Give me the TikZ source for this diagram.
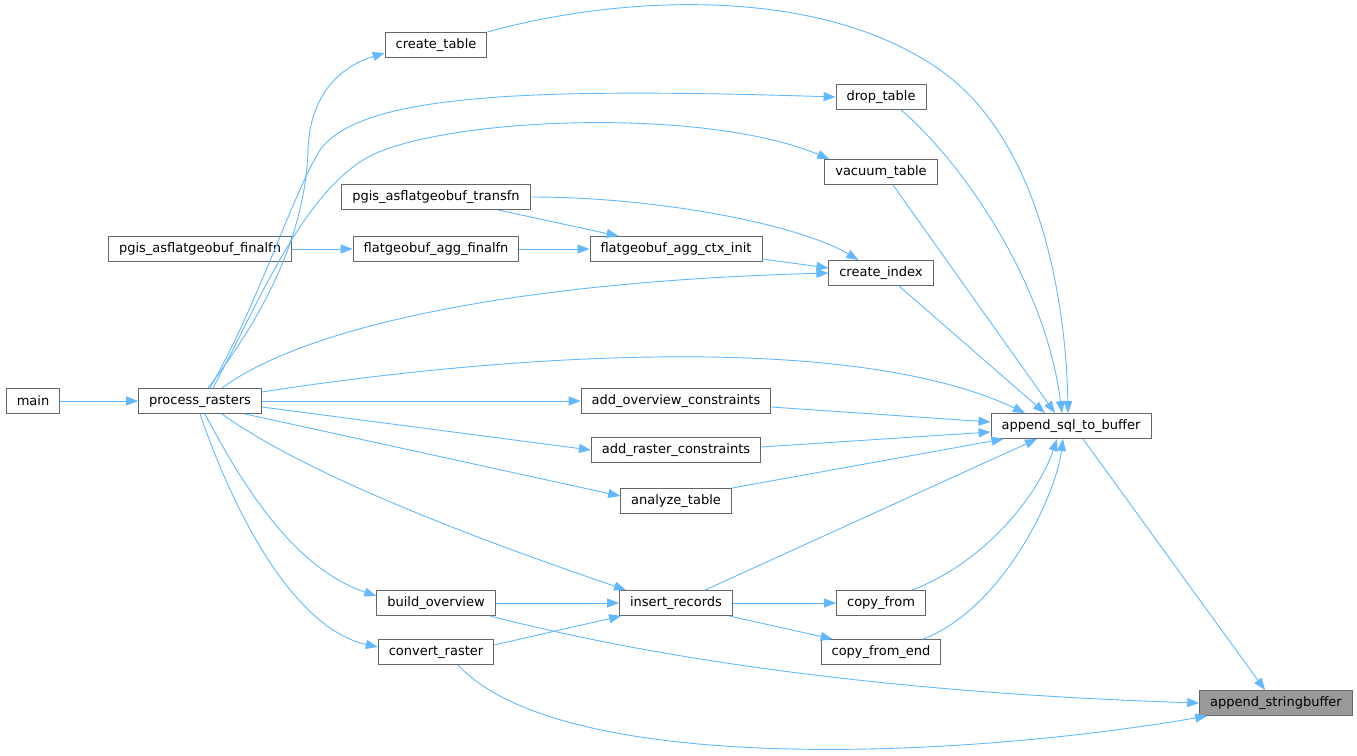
\documentclass[tikz,border=0pt]{standalone}
\usepackage{fontspec}
\setmainfont{DejaVu Sans}
\usetikzlibrary{arrows.meta,calc}
\definecolor{edgeblue}{HTML}{63B8FF}
\definecolor{boxgray}{HTML}{666666}
\definecolor{fillgray}{HTML}{999999}
\tikzset{
  fn/.style={draw=boxgray, line width=0.9pt, fill=white, rectangle, minimum height=25pt, inner xsep=10.5pt, inner ysep=0pt, font=\fontsize{13}{15}\selectfont, text=black},
  cur/.style={fn, fill=fillgray},
  edge/.style={draw=edgeblue, line width=0.9pt, -{Triangle[length=12pt,width=9pt]}},
}
\begin{document}
\begin{tikzpicture}[x=1pt,y=-1pt]
\useasboundingbox (0,0) rectangle (1357,755);
% nodes
\node[fn] (main) at (33,401) {main};
\node[fn] (pr) at (200,401) {process\_rasters};
\node[fn] (pf) at (200,249) {pgis\_asflatgeobuf\_finalfn};
\node[fn] (ct) at (436,45) {create\_table};
\node[fn] (pt) at (436,197) {pgis\_asflatgeobuf\_transfn};
\node[fn] (fgf) at (436,249) {flatgeobuf\_agg\_finalfn};
\node[fn] (ctx) at (676,249) {flatgeobuf\_agg\_ctx\_init};
\node[fn] (dt) at (881,97) {drop\_table};
\node[fn] (vt) at (881,172) {vacuum\_table};
\node[fn] (ci) at (881,273) {create\_index};
\node[fn] (aoc) at (676,401) {add\_overview\_constraints};
\node[fn] (arc) at (676,450) {add\_raster\_constraints};
\node[fn] (at) at (676,501) {analyze\_table};
\node[fn] (asb) at (1071,426) {append\_sql\_to\_buffer};
\node[fn] (bo) at (436,603) {build\_overview};
\node[fn] (ir) at (676,603) {insert\_records};
\node[fn] (cf) at (881,603) {copy\_from};
\node[fn] (cr) at (436,652) {convert\_raster};
\node[fn] (cfe) at (881,652) {copy\_from\_end};
\node[cur] (asf) at (1276,703) {append\_stringbuffer};
% edges
\draw[edge] (main.east) -- (pr.west);
\draw[edge] ([xshift=8pt]pr.north) .. controls (260,320) and (305,240) .. (308,150) .. controls (310,90) and (345,65) .. ([yshift=-8pt]ct.west);
\draw[edge] ([xshift=10pt]pr.north) .. controls (260,300) and (290,200) .. (320,150) .. controls (360,95) and (520,87) .. (dt.west);
\draw[edge] ([xshift=13pt]pr.north) .. controls (260,300) and (300,200) .. (363,160) .. controls (430,118) and (700,105) .. ([xshift=5pt]vt.north west);
\draw[edge] ([xshift=22pt]pr.north) .. controls (300,330) and (500,282) .. (ci.west);
\draw[edge] ([yshift=9pt]pr.east) .. controls (500,355) and (850,330) .. ([xshift=-46pt]asb.north);
\draw[edge] (pr.east) -- (aoc.west);
\draw[edge] ([yshift=-6pt]pr.east) -- (arc.west);
\draw[edge] ([xshift=45pt]pr.south) -- ([yshift=5pt]at.west);
\draw[edge] ([xshift=22pt]pr.south) .. controls (300,470) and (450,530) .. ([xshift=7pt]ir.north west);
\draw[edge] ([xshift=5pt]pr.south) .. controls (250,500) and (300,570) .. ([yshift=7pt]bo.west);
\draw[edge] (pr.south) .. controls (240,530) and (300,630) .. ([yshift=5pt]cr.west);
\draw[edge] (pf.east) -- (fgf.west);
\draw[edge] (fgf.east) -- (ctx.west);
\draw[edge] ([xshift=62pt]pt.south) -- ([xshift=29pt]ctx.north west);
\draw[edge] ([yshift=-10pt]ctx.east) -- ([yshift=5pt]ci.west);
\draw[edge] (pt.east) .. controls (660,197) and (800,225) .. ([xshift=30pt]ci.north west);
\draw[edge] (ct.north east) .. controls (620,-5) and (820,-15) .. (940,70) .. controls (1040,140) and (1066,300) .. ([xshift=-3pt]asb.north);
\draw[edge] ([xshift=20pt]dt.south) .. controls (960,160) and (1045,280) .. ([xshift=-9pt]asb.north);
\draw[edge] ([xshift=12pt]vt.south) -- ([xshift=-16pt]asb.north);
\draw[edge] ([xshift=18pt]ci.south) -- ([xshift=-26pt]asb.north);
\draw[edge] ([yshift=-6pt]aoc.east) -- ([yshift=4pt]asb.west);
\draw[edge] ([yshift=3pt]arc.east) -- ([yshift=-6pt]asb.west);
\draw[edge] (at.north east) -- ([xshift=13pt]asb.south west);
\draw[edge] ([xshift=29pt]ir.north) -- ([xshift=-34pt]asb.south);
\draw[edge] ([xshift=31pt]cf.north) .. controls (990,560) and (1040,490) .. ([xshift=-14pt]asb.south);
\draw[edge] ([xshift=42pt]cfe.north) .. controls (1000,610) and (1055,500) .. ([xshift=-8pt]asb.south);
\draw[edge] (ir.east) -- (cf.west);
\draw[edge] ([xshift=-4pt]ir.south east) -- ([xshift=12pt]cfe.north west);
\draw[edge] (bo.east) -- (ir.west);
\draw[edge] ([yshift=7pt]cr.east) -- ([xshift=2pt]ir.south west);
\draw[edge] ([xshift=54pt]bo.south) .. controls (700,670) and (950,695) .. (asf.west);
\draw[edge] ([xshift=22pt]cr.south) .. controls (560,775) and (950,760) .. ([xshift=8pt]asf.south west);
\draw[edge] ([xshift=12pt]asb.south) -- ([xshift=-11pt]asf.north);
\end{tikzpicture}
\end{document}
